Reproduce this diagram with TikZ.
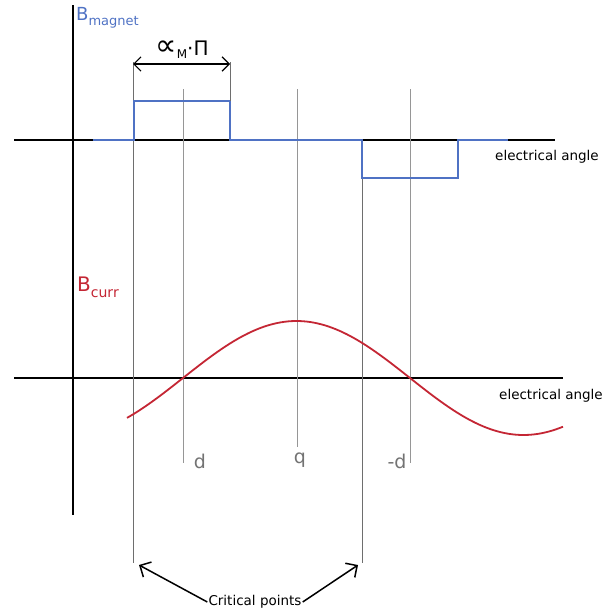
\documentclass[tikz,border=0pt]{standalone}
\usepackage{fontspec}
\setmainfont{DejaVu Sans}
\usepackage{xcolor}
\usetikzlibrary{arrows.meta,positioning,calc}
\definecolor{magnetblue}{RGB}{79,114,196}
\definecolor{currred}{RGB}{196,38,52}
\definecolor{guidegrey}{RGB}{150,150,150}
\definecolor{critgrey}{RGB}{110,110,110}
\definecolor{labelgrey}{RGB}{115,115,115}

\begin{document}
\begin{tikzpicture}[x=1pt,y=-1pt,
    axis/.style={black, line width=1.2pt},
    guide/.style={guidegrey, line width=0.7pt},
    critline/.style={critgrey, line width=0.8pt},
    anglelabel/.style={font=\fontsize{13.5}{15}\selectfont, anchor=west, inner sep=0pt},
    dqlabel/.style={font=\fontsize{19}{21}\selectfont, labelgrey, inner sep=0pt}]
    \useasboundingbox (0,0) rectangle (605,613);
    % axes
    \coordinate (yTop) at (73,5);
    \coordinate (yBot) at (73,515);
    \draw[axis] (yTop) -- (yBot);
    \coordinate (magL) at (14,140);
    \coordinate (magR) at (555,140);
    \draw[axis] (magL) -- (magR);
    \coordinate (curL) at (14,378);
    \coordinate (curR) at (563,378);
    \draw[axis] (curL) -- (curR);
    \node[anglelabel] (magAngle) at (495,157) {electrical angle};
    \node[anglelabel] (curAngle) at (499,396) {electrical angle};
    % guide lines d, q, -d
    \draw[guide] (183,89) -- (183,463);
    \draw[guide] (297,89) -- (297,447);
    \draw[guide] (410,89) -- (410,463);
    \node[dqlabel] (dLabel) at (200,461) {d};
    \node[dqlabel] (qLabel) at (300,460) {q};
    \node[dqlabel] (mdLabel) at (397,461) {-d};
    % critical lines
    \coordinate (critA) at (133,62);
    \coordinate (critAend) at (133,563);
    \coordinate (critB) at (362,140);
    \coordinate (critBend) at (362,563);
    \draw[critline] (critA) -- (critAend);
    \draw[critline] (critB) -- (critBend);
    % magnet field
    \node[magnetblue, anchor=base west, inner sep=0pt, font=\fontsize{18}{20}\selectfont] (bMag) at (76,20)
        {B\raisebox{-5pt}{\fontsize{13}{15}\selectfont magnet}};
    \draw[magnetblue, line width=1.8pt] (93,140) -- (134,140) -- (134,101) -- (230,101) -- (230,140)
        -- (362,140) -- (362,178) -- (458,178) -- (458,140) -- (508,140);
    % pole arc width
    \coordinate (tickTop) at (230,62);
    \coordinate (tickBot) at (230,101);
    \draw[critline] (tickTop) -- (tickBot);
    \coordinate (dimL) at (133,64);
    \coordinate (dimR) at (230,64);
    \draw[{Straight Barb[length=2.5mm]}-{Straight Barb[length=2.5mm]}, line width=1.1pt] (dimL) -- (dimR);
    \node[font=\fontsize{20}{22}\selectfont, inner sep=0pt, anchor=base] (alphaLabel) at (182,55)
        {{\fontsize{30}{30}\selectfont ∝}\raisebox{-3pt}{\fontsize{12}{14}\selectfont M}·Π};
    % current field
    \node[currred, anchor=base west, inner sep=0pt, font=\fontsize{20}{22}\selectfont] (bCurr) at (77,291)
        {B\raisebox{-6pt}{\fontsize{14}{16}\selectfont curr}};
    \draw[currred, line width=1.8pt] plot[domain=127:563, samples=120, smooth]
        (\x, {378-57*sin((\x-183)/227*180)});
    % critical points
    \node[font=\fontsize{13.5}{15}\selectfont, inner sep=1pt] (critText) at (255,602) {Critical points};
    \coordinate (tipA) at (139,565);
    \coordinate (tipB) at (358,565);
    \draw[-{Straight Barb[length=3mm]}, line width=1.5pt] (critText.west) -- (tipA);
    \draw[-{Straight Barb[length=3mm]}, line width=1.5pt] (critText.east) -- (tipB);
\end{tikzpicture}
\end{document}
